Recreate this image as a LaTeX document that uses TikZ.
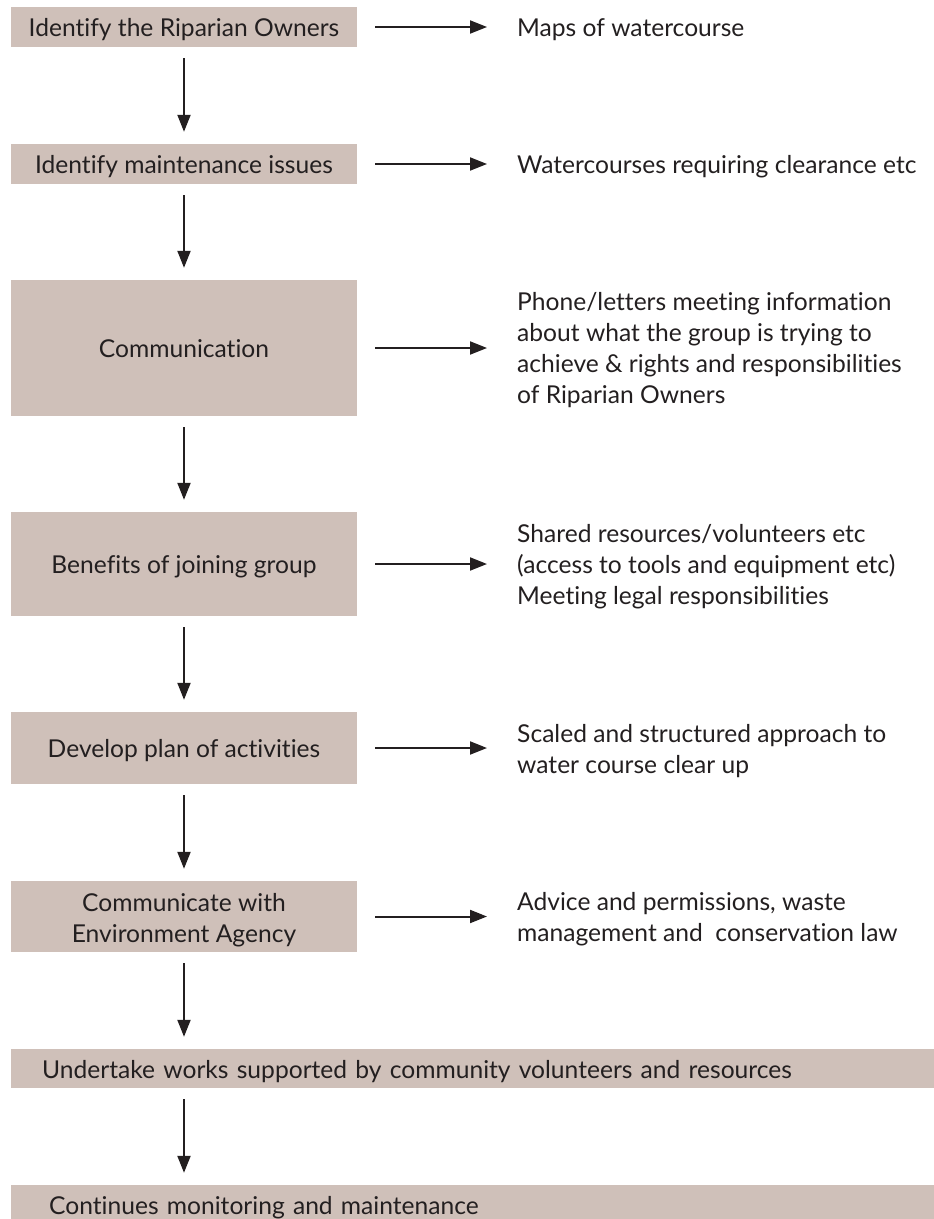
\documentclass[tikz,border=0pt]{standalone}
\usepackage{fontspec}
\setmainfont[Ligatures=NoCommon]{Lato}
\usepackage{tikz}
\usetikzlibrary{arrows.meta}
\definecolor{boxfill}{RGB}{207,192,185}
\definecolor{ink}{RGB}{35,31,32}
\tikzset{
	stage/.style={fill=boxfill, text=ink, minimum width=346pt, align=center, inner sep=0pt, text height=19.5pt, text depth=0pt},
	wide/.style={anchor=west, align=left, text width=900pt},
	note/.style={anchor=west, text=ink, align=left, inner sep=0pt},
	flow/.style={draw=ink, line width=2pt, -{Triangle[length=17pt, width=13pt]}},
}
\begin{document}
\begin{tikzpicture}[x=1pt, y=-1pt, font=\fontsize{24.6}{31}\selectfont]
			\clip (0, 0) rectangle (934, 1219);
			\node[stage, minimum height=40pt] (s1) at (184, 27) {Identify the Riparian Owners};
			\node[stage, minimum height=40pt] (s2) at (184, 164) {Identify maintenance issues};
			\node[stage, minimum height=136pt] (s3) at (184, 348) {Communication};
			\node[stage, minimum height=104pt] (s4) at (184, 564) {Benefits of joining group};
			\node[stage, minimum height=72pt] (s5) at (184, 748) {Develop plan of activities};
			\node[stage, minimum height=71pt, text height=51pt, text depth=0pt] (s6) at (184, 916.5) {Communicate with\\Environment Agency};
			\node[stage, wide, inner xsep=31pt, minimum height=39pt] (s7) at (11, 1068.5) {Undertake works supported by community volunteers and resources};
			\node[stage, wide, inner xsep=38pt, minimum height=40pt] (s8) at (11, 1205) {Continues monitoring and maintenance};
			\node[note] (n1) at (517, 30) {Maps of watercourse};
			\node[note] (n2) at (517, 167) {Watercourses requiring clearance etc};
			\node[note] (n3) at (517, 350) {Phone/letters meeting information\\about what the group is trying to\\achieve \& rights and responsibilities\\of Riparian Owners};
			\node[note] (n4) at (517, 567) {Shared resources/volunteers etc\\(access to tools and equipment etc)\\Meeting legal responsibilities};
			\node[note] (n5) at (517, 751) {Scaled and structured approach to\\water course clear up};
			\node[note] (n6) at (517, 919) {Advice and permissions, waste\\management and\ \ conservation law};
			\draw[flow, shorten <=11pt, shorten >=12pt] (s1) -- (s2);
			\draw[flow, shorten <=11pt, shorten >=12pt] (s2) -- (s3);
			\draw[flow, shorten <=11pt, shorten >=12pt] (s3) -- (s4);
			\draw[flow, shorten <=11pt, shorten >=12pt] (s4) -- (s5);
			\draw[flow, shorten <=11pt, shorten >=12pt] (s5) -- (s6);
			\draw[flow, shorten <=11pt, shorten >=12pt] (s6) -- (s6 |- s7.north);
			\draw[flow, shorten <=11pt, shorten >=12pt] (s6 |- s7.south) -- (s6 |- s8.north);
			\draw[flow, shorten <=18pt, shorten >=30pt] (s1.east) -- (s1.east -| n1.west);
			\draw[flow, shorten <=18pt, shorten >=30pt] (s2.east) -- (s2.east -| n2.west);
			\draw[flow, shorten <=18pt, shorten >=30pt] (s3.east) -- (s3.east -| n3.west);
			\draw[flow, shorten <=18pt, shorten >=30pt] (s4.east) -- (s4.east -| n4.west);
			\draw[flow, shorten <=18pt, shorten >=30pt] (s5.east) -- (s5.east -| n5.west);
			\draw[flow, shorten <=18pt, shorten >=30pt] (s6.east) -- (s6.east -| n6.west);
		\end{tikzpicture}
\end{document}
